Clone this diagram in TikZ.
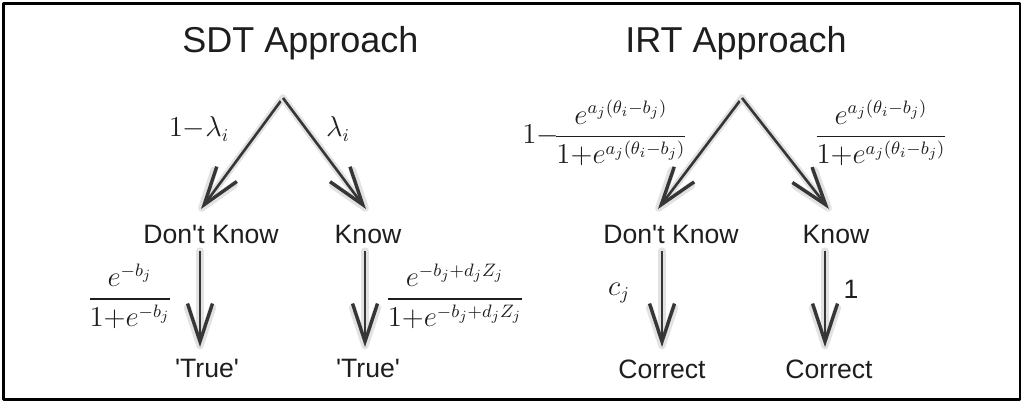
\documentclass[tikz,border=0pt]{standalone}
\usepackage{fontspec}
\usepackage{amsmath}
\setmainfont{Liberation Sans}
\usetikzlibrary{arrows.meta}
\definecolor{treeink}{HTML}{1E1E1E}
\definecolor{branchgray}{HTML}{363636}
\definecolor{halogray}{HTML}{E2E2E2}

\begin{document}
\begin{tikzpicture}[
  x=0.5pt,
  y=-0.5pt,
  line join=round,
  heading/.style={font=\fontsize{18}{20}\selectfont,text=treeink,anchor=base,inner sep=0pt},
  state/.style={font=\fontsize{13.3}{15}\selectfont,text=treeink,anchor=base,inner sep=0pt},
  prob/.style={font=\fontsize{13.5}{16}\selectfont,text=treeink,inner sep=0pt},
  branch/.style={draw=branchgray,line width=1.3pt,
    -{Straight Barb[length=19pt,width=12.5pt,line width=1.7pt]},
    preaction={draw=halogray,line width=3.6pt,line cap=round,shorten >=-1.2pt,
      -{Straight Barb[round,length=19pt,width=12.5pt,line width=3.6pt]}}}
]
  % Match the artwork frame.
  \useasboundingbox (0,0) rectangle (1026,407);
  \draw[line width=1.2pt] (3.5,3.5) rectangle (1020,399.5);

  % Left panel: SDT tree.
  \node[heading] (sdthead) at (300.5,52) {SDT Approach};
  \coordinate (sdttop) at (283,98);
  \coordinate (sdtl) at (201,209);
  \coordinate (sdtr) at (366,209);
  \node[state] (sdtdk) at (211,243) {Don\textquotesingle t Know};
  \node[state] (sdtkn) at (368,243) {Know};
  \coordinate (sdtdka) at (200,251);
  \coordinate (sdtdkb) at (200,347);
  \coordinate (sdtkna) at (365,251);
  \coordinate (sdtknb) at (365,347);
  \node[state] (sdtdkt) at (207,377) {\textquotesingle True\textquotesingle};
  \node[state] (sdtknt) at (368,377) {\textquotesingle True\textquotesingle};
  \node[prob] (sdtpl) at (199,129) {$1{-}\lambda_i$};
  \node[prob] (sdtpr) at (338,129) {$\lambda_i$};
  \node[prob] (sdtgl) at (130,296)
    {$\dfrac{e^{-b_j}}{1{+}e^{-b_j}}$};
  \node[prob] (sdtgr) at (455,296)
    {$\dfrac{e^{-b_j+d_jZ_j}}{1{+}e^{-b_j+d_jZ_j}}$};

  % Right panel: IRT tree.
  \node[heading] (irthead) at (736,52) {IRT Approach};
  \coordinate (irttop) at (742,98);
  \coordinate (irtl) at (658,209);
  \coordinate (irtr) at (829,209);
  \node[state] (irtdk) at (671,243) {Don\textquotesingle t Know};
  \node[state] (irtkn) at (836,243) {Know};
  \coordinate (irtdka) at (662,251);
  \coordinate (irtdkb) at (662,347);
  \coordinate (irtkna) at (825,251);
  \coordinate (irtknb) at (825,347);
  \node[state] (irtdkc) at (662,378) {Correct};
  \node[state] (irtknc) at (829,378) {Correct};
  \node[prob] (irtpl) at (605,133)
    {$1{-}\!\dfrac{e^{a_j(\theta_i-b_j)}}{1{+}e^{a_j(\theta_i-b_j)}}$};
  \node[prob] (irtpr) at (881,133)
    {$\dfrac{e^{a_j(\theta_i-b_j)}}{1{+}e^{a_j(\theta_i-b_j)}}$};
  \node[prob] (irtgl) at (619,293) {$c_j$};
  \node[state] (irtgr) at (851,298) {1};

  % Branches with a soft halo.
  \foreach \a/\b in {sdttop/sdtl,sdttop/sdtr,sdtdka/sdtdkb,sdtkna/sdtknb,
                     irttop/irtl,irttop/irtr,irtdka/irtdkb,irtkna/irtknb} {
    \draw[branch] (\a) -- (\b);
  }
\end{tikzpicture}
\end{document}
